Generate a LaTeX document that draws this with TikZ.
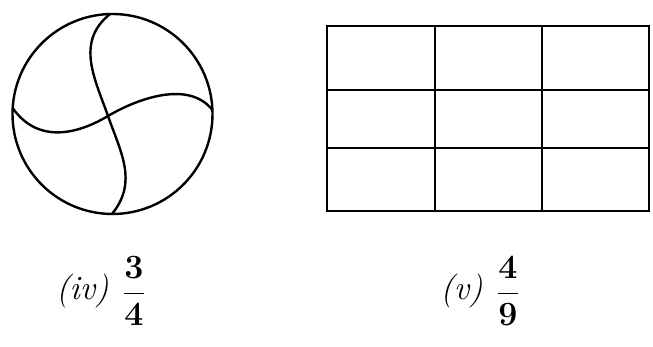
\RequirePackage{fix-cm}
\documentclass[tikz,border=0pt]{standalone}
\usepackage{amsmath,amssymb}
\usetikzlibrary{positioning}
\tikzset{
  figline/.style = {draw, line width=2.4pt, black},
  caption/.style = {font=\fontsize{34}{38}\selectfont, inner sep=0pt}
}

\begin{document}
\begin{tikzpicture}[x=1pt, y=1pt]
    \useasboundingbox (0,0) rectangle (653,347);

    % (iv) circle cut into four curved parts
    \coordinate (disc) at (112.5,233);
    \coordinate (mid) at (108,231);
    \coordinate (top) at ([shift={(disc)}]91.4:100);
    \coordinate (bot) at ([shift={(disc)}]269.7:100);
    \coordinate (lft) at ([shift={(disc)}]176.6:100);
    \coordinate (rgt) at ([shift={(disc)}]2.3:100);
    \draw[figline] (disc) circle (100);
    \draw[figline] (top) .. controls (75,305) and (95,268) .. (mid)
                         .. controls (121,194) and (138,165) .. (bot);
    \draw[figline] (lft) .. controls (40,200) and (83,216) .. (mid)
                         .. controls (135,247) and (188,268) .. (rgt);

    % (v) rectangle cut into nine parts
    \coordinate (sw) at (327,136);
    \coordinate (ne) at (649,321);
    \draw[figline] (sw) rectangle (ne);
    \foreach \x in {435,542}
        \draw[figline] (\x,136) -- (\x,321);
    \foreach \y in {199,257}
        \draw[figline] (327,\y) -- (649,\y);

    \node[caption] (fraciv) at (134,56) {$\dfrac{\mathbf{3}}{\mathbf{4}}$};
    \node[caption, left=14pt of fraciv] (labiv) {\textit{(iv)}};
    \node[caption] (fracv) at (508,56) {$\dfrac{\mathbf{4}}{\mathbf{9}}$};
    \node[caption, left=14pt of fracv] (labv) {\textit{(v)}};
\end{tikzpicture}
\end{document}
